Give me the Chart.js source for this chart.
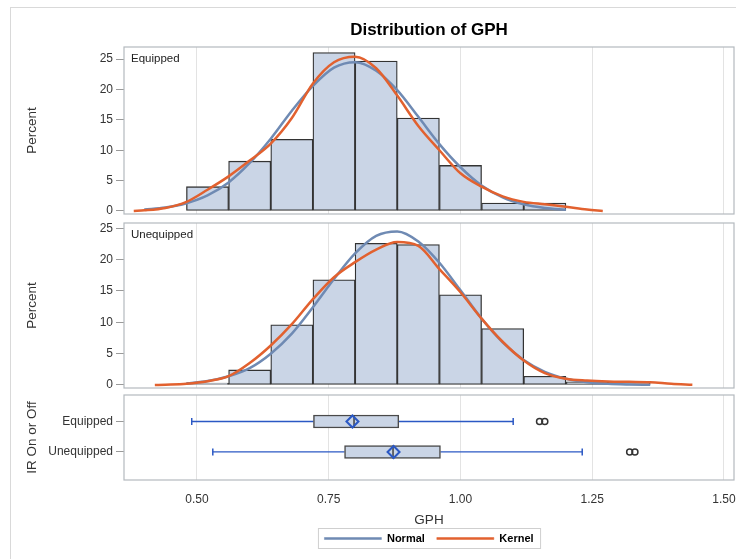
<!DOCTYPE html>
<html>
<head>
<meta charset="utf-8">
<script src="https://cdn.jsdelivr.net/npm/chart.js@4.4.1/dist/chart.umd.min.js"></script>
<style>
  body { margin: 0; background: #fff; width: 736px; height: 559px; overflow: hidden; position: relative; }
  #outer { position: absolute; left: 10px; top: 7px; width: 760px; height: 600px; border: 1px solid #d9d9d9; }
  canvas { position: absolute; left: 0; }
</style>
</head>
<body>
<div id="outer"></div>
<canvas id="equipped-hist" width="736" height="218" style="top:0"></canvas>
<canvas id="unequipped-hist" width="736" height="175" style="top:218px"></canvas>
<canvas id="ir-box" width="736" height="166" style="top:393px"></canvas>
<script>
// GPH histograms, bins are 0.08 wide
const equippedBinMids = [0.52, 0.60, 0.68, 0.76, 0.84, 0.92, 1.00, 1.08, 1.16];
const equippedPercent = [4.0, 8.2, 11.8, 26.1, 24.7, 15.3, 7.5, 1.3, 1.3];
const unequippedBinMids = [0.52, 0.60, 0.68, 0.76, 0.84, 0.92, 1.00, 1.08, 1.16, 1.24, 1.32];
const unequippedPercent = [0.3, 2.4, 9.6, 16.8, 22.6, 22.4, 14.4, 9.0, 1.4, 0.5, 0.5];

// fitted curves (percent scale)
const equippedNormalX = [0.40, 0.44, 0.48, 0.52, 0.56, 0.60, 0.64, 0.68, 0.72, 0.76, 0.80, 0.84, 0.88, 0.92, 0.96, 1.00, 1.04, 1.08, 1.12, 1.16, 1.20];
const equippedNormalY = [0.24, 0.58, 1.28, 2.57, 4.7, 7.9, 11.9, 16.5, 20.6, 23.6, 24.5, 23.1, 19.9, 15.5, 11.0, 7.2, 4.2, 2.25, 1.1, 0.49, 0.2];
const equippedKernelX = [0.38, 0.40, 0.44, 0.48, 0.52, 0.56, 0.60, 0.64, 0.68, 0.72, 0.76, 0.80, 0.84, 0.88, 0.92, 0.96, 1.00, 1.04, 1.08, 1.12, 1.16, 1.20, 1.24, 1.27];
const equippedKernelY = [0.0, 0.1, 0.5, 1.5, 3.5, 5.7, 8.3, 11.1, 15.3, 21.0, 24.5, 25.4, 23.5, 19.0, 14.0, 10.0, 6.2, 4.0, 2.4, 1.5, 1.1, 0.7, 0.25, 0.0];
const unequippedNormalX = [0.48, 0.52, 0.56, 0.60, 0.64, 0.68, 0.72, 0.76, 0.80, 0.84, 0.88, 0.92, 0.96, 1.00, 1.04, 1.08, 1.12, 1.16, 1.20, 1.24, 1.28, 1.32, 1.36];
const unequippedNormalY = [0.26, 0.63, 1.4, 2.7, 5.0, 8.2, 12.4, 16.9, 21.0, 23.8, 24.5, 22.9, 19.5, 15.1, 10.6, 6.8, 4.0, 2.1, 1.0, 0.45, 0.18, 0.07, 0.02];
const unequippedKernelX = [0.42, 0.44, 0.48, 0.52, 0.56, 0.60, 0.64, 0.68, 0.72, 0.76, 0.80, 0.84, 0.88, 0.92, 0.96, 1.00, 1.04, 1.08, 1.12, 1.16, 1.20, 1.24, 1.28, 1.32, 1.36, 1.40, 1.44];
const unequippedKernelY = [0.0, 0.05, 0.2, 0.6, 1.4, 3.5, 6.3, 9.7, 13.7, 17.2, 19.6, 21.6, 22.8, 22.2, 18.5, 14.8, 10.6, 6.9, 3.9, 1.9, 1.0, 0.7, 0.55, 0.5, 0.45, 0.2, 0.05];

// box plot summary per IR group
const groups = ['Equipped', 'Unequipped'];
const whiskerLow = [0.490, 0.530];
const q1 = [0.721, 0.780];
const medians = [0.798, 0.872];
const means = [0.795, 0.873];
const q3 = [0.883, 0.962];
const whiskerHigh = [1.100, 1.231];
const outliers = [[1.150, 1.160], [1.321, 1.331]];

const gphTicks = [0.50, 0.75, 1.00, 1.25, 1.50];
const percentTicks = [0, 5, 10, 15, 20, 25];

const normalColor = '#6f8ab3';
const kernelColor = '#e2612f';
const barFill = '#cad5e6';
const barEdge = '#333333';
const whiskerColor = '#2b58c4';
const gridColor = '#e3e3e3';
const frameColor = '#b4b9be';
const tickColor = '#9a9a9a';

Chart.defaults.font.family = "'Liberation Sans', Arial, sans-serif";
Chart.defaults.color = '#333';
Chart.defaults.animation = false;
Chart.defaults.plugins.tooltip.enabled = false;
Chart.defaults.layout.autoPadding = false;

const pts = (xs, ys) => xs.map((x, i) => ({ x, y: ys[i] }));

// box around each panel's plot area
const panelFrame = {
  id: 'panelFrame',
  afterDraw(chart) {
    const { ctx, chartArea: a } = chart;
    ctx.save();
    ctx.strokeStyle = frameColor;
    ctx.lineWidth = 1.2;
    ctx.strokeRect(a.left, a.top, a.right - a.left, a.bottom - a.top);
    ctx.restore();
  }
};

// group name in the top-left corner of a histogram panel
const panelLabel = {
  id: 'panelLabel',
  afterDraw(chart, args, opts) {
    if (!opts.text) return;
    const { ctx, chartArea: a } = chart;
    ctx.save();
    ctx.font = "11.5px 'Liberation Sans', Arial, sans-serif";
    ctx.fillStyle = '#222';
    ctx.textBaseline = 'middle';
    ctx.fillText(opts.text, a.left + 7, a.top + 12);
    ctx.restore();
  }
};

const legendFrame = {
  id: 'legendFrame',
  afterDraw(chart) {
    const boxes = chart.legend && chart.legend.legendHitBoxes;
    if (!boxes || !boxes.length) return;
    const left = Math.min(...boxes.map(b => b.left)) - 6;
    const right = Math.max(...boxes.map(b => b.left + b.width)) + 7;
    const mid = boxes[0].top + boxes[0].height / 2;
    const ctx = chart.ctx;
    ctx.save();
    ctx.strokeStyle = '#cfcfcf';
    ctx.lineWidth = 1;
    ctx.strokeRect(left, mid - 10, right - left, 20);
    ctx.restore();
  }
};

function gphAxis(showLabels) {
  return {
    type: 'linear',
    min: 0.3615,
    max: 1.519,
    offset: false,
    afterBuildTicks: s => { s.ticks = gphTicks.map(value => ({ value })); },
    afterFit: s => {
      s.paddingLeft = 0;
      s.paddingRight = 0;
      if (showLabels) s.height = 41;
    },
    grid: { color: gridColor, drawTicks: false, offset: false },
    border: { display: false },
    ticks: {
      display: showLabels,
      padding: 12,
      font: { size: 12 },
      callback: v => v.toFixed(2)
    },
    title: {
      display: showLabels,
      text: 'GPH',
      font: { size: 13.5 },
      padding: { top: 6, bottom: -7 }
    }
  };
}

function sideAxis(extra) {
  return Object.assign({
    afterFit: s => { s.width = 124; s.paddingTop = 0; s.paddingBottom = 0; },
    grid: { drawOnChartArea: false, drawTicks: true, tickLength: 8, color: tickColor, offset: false },
    border: { display: false },
    ticks: { padding: 3, font: { size: 12 } }
  }, extra);
}

function histogram(canvasId, mids, percent, normalPts, kernelPts, yMin, yMax, label, padding, title) {
  return new Chart(document.getElementById(canvasId), {
    type: 'bar',
    data: {
      datasets: [
        { type: 'line', label: 'Kernel', data: kernelPts, borderColor: kernelColor, borderWidth: 2.5,
          pointRadius: 0, cubicInterpolationMode: 'monotone' },
        { type: 'line', label: 'Normal', data: normalPts, borderColor: normalColor, borderWidth: 2.5,
          pointRadius: 0, cubicInterpolationMode: 'monotone' },
        { label: 'Percent', data: pts(mids, percent), backgroundColor: barFill, borderColor: barEdge,
          borderWidth: 1.3, borderSkipped: false, barPercentage: 1, categoryPercentage: 1 }
      ]
    },
    options: {
      responsive: false,
      layout: { padding },
      scales: {
        x: gphAxis(false),
        y: sideAxis({
          type: 'linear', min: yMin, max: yMax,
          afterBuildTicks: s => { s.ticks = percentTicks.map(value => ({ value })); },
          title: { display: true, text: 'Percent', font: { size: 13.5 }, padding: { top: 24, bottom: 0 } }
        })
      },
      plugins: {
        legend: { display: false },
        title: title || { display: false },
        panelLabel: { text: label }
      }
    },
    plugins: [panelFrame, panelLabel]
  });
}

// top panel carries the overall title
histogram('equipped-hist', equippedBinMids, equippedPercent,
  pts(equippedNormalX, equippedNormalY), pts(equippedKernelX, equippedKernelY),
  -0.5, 27.0, 'Equipped',
  { left: 0, right: 2, top: 0, bottom: 4 },
  {
    display: true, text: 'Distribution of GPH', fullSize: false, color: '#000',
    font: { size: 17, weight: 'bold' }, padding: { top: 20, bottom: 6.6 }
  });

histogram('unequipped-hist', unequippedBinMids, unequippedPercent,
  pts(unequippedNormalX, unequippedNormalY), pts(unequippedKernelX, unequippedKernelY),
  -0.48, 25.85, 'Unequipped',
  { left: 0, right: 2, top: 5, bottom: 5 });

// box plot panel: rows 1 and 2 on a reversed linear axis
const boxDatasets = [
  { type: 'line', label: 'Mean', data: means.map((m, i) => ({ x: m, y: i + 1 })), showLine: false,
    pointStyle: 'rectRot', pointRadius: 6, pointBorderColor: whiskerColor,
    pointBackgroundColor: 'rgba(0,0,0,0)', pointBorderWidth: 2 },
  { type: 'line', label: 'Median', data: medians.map((m, i) => ({ x: m, y: i + 1 })), showLine: false,
    pointStyle: 'line', pointRotation: 90, pointRadius: 6.5, pointBorderColor: '#404040', pointBorderWidth: 1.5 },
  { type: 'line', label: 'Outliers', data: outliers.flatMap((o, i) => o.map(x => ({ x, y: i + 1 }))), showLine: false,
    pointStyle: 'circle', pointRadius: 3, pointBorderColor: '#333', pointBackgroundColor: 'rgba(0,0,0,0)', pointBorderWidth: 1.5 },
  { type: 'bar', label: 'Box', indexAxis: 'y', data: groups.map((g, i) => ({ x: [q1[i], q3[i]], y: i + 1 })),
    backgroundColor: barFill, borderColor: '#4a4a4a', borderWidth: 1.5, borderSkipped: false, barThickness: 13 }
];
groups.forEach((g, i) => {
  const whisker = (a, b, radii) => ({
    type: 'line', label: g + ' whisker', data: [{ x: a, y: i + 1 }, { x: b, y: i + 1 }],
    borderColor: whiskerColor, borderWidth: 1.3, pointStyle: 'line', pointRotation: 90,
    pointRadius: radii, pointBorderColor: whiskerColor, pointBorderWidth: 1.5
  });
  boxDatasets.push(whisker(whiskerLow[i], q1[i], [3.5, 0]));
  boxDatasets.push(whisker(q3[i], whiskerHigh[i], [0, 3.5]));
});

new Chart(document.getElementById('ir-box'), {
  type: 'bar',
  data: { datasets: boxDatasets },
  options: {
    responsive: false,
    layout: { padding: { left: 0, right: 2, top: 2, bottom: 5 } },
    scales: {
      x: gphAxis(true),
      y: sideAxis({
        type: 'linear', min: 0.13, max: 2.92, reverse: true, offset: false,
        afterBuildTicks: s => { s.ticks = [1, 2].map(value => ({ value })); },
        ticks: { padding: 3, font: { size: 12 }, callback: v => groups[v - 1] },
        title: { display: true, text: 'IR On or Off', font: { size: 13.5 }, padding: { top: 24, bottom: 0 } }
      })
    },
    plugins: {
      legend: {
        display: true,
        position: 'bottom',
        fullSize: false,
        onClick: null,
        labels: {
          boxWidth: 57,
          boxHeight: 2,
          padding: 12,
          font: { size: 11, weight: 'bold' },
          generateLabels: () => [
            { text: 'Normal', fillStyle: normalColor, strokeStyle: normalColor, lineWidth: 0.5, hidden: false },
            { text: 'Kernel', fillStyle: kernelColor, strokeStyle: kernelColor, lineWidth: 0.5, hidden: false }
          ]
        }
      }
    }
  },
  plugins: [panelFrame, legendFrame]
});
</script>
</body>
</html>
